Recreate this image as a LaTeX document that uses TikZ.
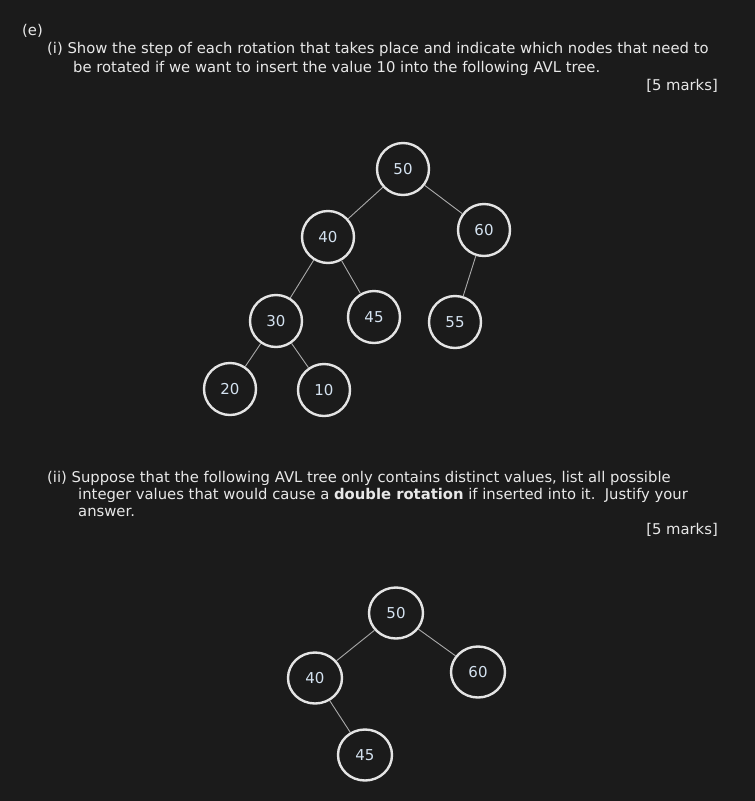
\documentclass[tikz,border=0pt]{standalone}
\usepackage{fontspec}
\setmainfont{DejaVu Sans}
\usepackage{tikz}
\usetikzlibrary{shapes.geometric}

\definecolor{bg}{RGB}{27,27,27}
\definecolor{ink}{RGB}{232,232,232}
\definecolor{ring}{RGB}{228,228,228}
\definecolor{wire}{RGB}{170,170,170}
\definecolor{digit}{RGB}{212,226,240}

\begin{document}
\begin{tikzpicture}[x=1pt,y=-1pt,
    txt/.style={anchor=base west,inner sep=0pt,text=ink,font=\fontsize{14.8}{17}\selectfont},
    vert/.style={circle,draw=ring,line width=2.4pt,minimum size=52pt,inner sep=0pt,
                 text=digit,font=\fontsize{15}{17}\selectfont},
    overt/.style={ellipse,draw=ring,line width=2.4pt,minimum width=54pt,minimum height=51pt,
                  inner sep=0pt,text=digit,font=\fontsize{15}{17}\selectfont},
    link/.style={draw=wire,line width=0.9pt}]
  \fill[bg] (0,0) rectangle (755,801);
  \useasboundingbox (0,0) rectangle (755,801);

  % part (i)
  \node[txt] (pe)   at (22,35) {(e)};
  \node[txt] (q1a)  at (47,53) {(i) Show the step of each rotation that takes place and indicate which nodes that need to};
  \node[txt] (q1b)  at (73,72) {be rotated if we want to insert the value 10 into the following AVL tree.};
  \node[txt,anchor=base east] (m1) at (718,90) {[5 marks]};

  \node[vert] (a50) at (403,169) {50};
  \node[vert] (a40) at (328,237) {40};
  \node[vert] (a60) at (484,230) {60};
  \node[vert] (a30) at (276,321) {30};
  \node[vert] (a45) at (374,317) {45};
  \node[vert] (a55) at (455,322) {55};
  \node[vert] (a20) at (230,389) {20};
  \node[vert] (a10) at (324,390) {10};
  \path[link]
        (a50) edge (a40)
        (a50) edge (a60)
        (a40) edge (a30)
        (a40) edge (a45)
        (a60) edge (a55)
        (a30) edge (a20)
        (a30) edge (a10);

  % part (ii)
  \node[txt] (q2a) at (47,482) {(ii) Suppose that the following AVL tree only contains distinct values, list all possible};
  \node[txt] (q2b) at (78,499) {integer values that would cause a \textbf{double rotation} if inserted into it.\ \ Justify your};
  \node[txt] (q2c) at (78,516) {answer.};
  \node[txt,anchor=base east] (m2) at (718,534) {[5 marks]};

  \node[overt] (b50) at (396,613) {50};
  \node[overt] (b40) at (315,678) {40};
  \node[overt] (b60) at (478,672) {60};
  \node[overt] (b45) at (365,755) {45};
  \path[link]
        (b50) edge (b40)
        (b50) edge (b60)
        (b40) edge (b45);
\end{tikzpicture}
\end{document}
